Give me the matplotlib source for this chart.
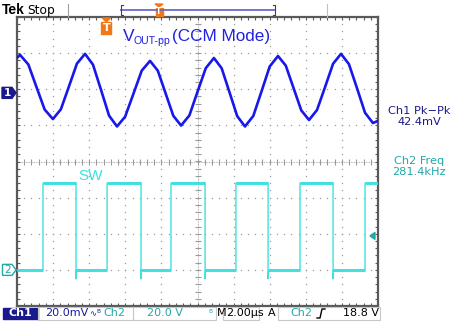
import matplotlib
matplotlib.use('Agg')
import matplotlib.pyplot as plt
from matplotlib.patches import Rectangle, Polygon
import numpy as np

W, H = 459, 326

# ---------------- data ----------------
time_scale_us = 2.0          # 2.00 us / div
ch1_scale_mv = 20.0          # 20.0 mV / div
ch2_scale_v = 20.0           # 20.0 V / div
ch1_offset_div = 1.9         # Ch1 ground marker position (div)
ch2_offset_div = -3.0        # Ch2 ground marker position (div)
trigger_level_v = 18.8
trigger_time_us = 4.95

ch1_t_us = [0.00, 0.17, 0.63, 1.08, 1.53, 1.99, 2.43, 2.88, 3.32, 3.77,
            4.21, 4.66, 5.10, 5.54, 5.99, 6.45, 6.91, 7.37, 7.80, 8.23,
            8.66, 9.09, 9.55, 10.00, 10.46, 10.91, 11.34, 11.77, 12.20, 12.63,
            13.09, 13.55, 14.00, 14.46, 14.89, 15.32, 15.75, 16.18, 16.62, 17.07,
            17.51, 17.95, 18.39, 18.84, 19.28, 19.72, 20.00]
ch1_mv = [19.4, 21.0, 15.7, 3.2, -9.2, -14.5, -9.1, 3.6, 16.2, 21.6,
          15.6, 1.5, -12.6, -18.6, -13.2, -0.5, 12.3, 17.7, 12.3, -0.2,
          -12.7, -18.1, -12.5, 0.6, 13.7, 19.3, 13.6, 0.4, -12.9, -18.6,
          -12.8, 0.9, 14.6, 20.4, 15.1, 2.7, -9.7, -15.0, -9.5, 3.3,
          16.1, 21.6, 15.9, 2.5, -11.0, -16.7, -15.5]

ch2_rise_us = [1.44, 4.99, 8.53, 12.13, 15.68, 19.28]
ch2_fall_us = [3.27, 6.87, 10.42, 13.91, 17.51]
ch2_high_v = 48.0
ch2_low_v = 0.0
ch2_undershoot_v = -5.0

meas_labels = ["Ch1 Pk\u2212Pk", "42.4mV", "Ch2 Freq", "281.4kHz"]

# ---------------- colours ----------------
BLUE = '#1818ea'
CYAN = '#3ee0e0'
NAVY = '#1a1a8c'
TEAL = '#22a8a8'
ORANGE = '#f07818'
GRID = '#9a9a9a'
FRAME = '#5a5a5a'

fig = plt.figure(figsize=(W / 100, H / 100), dpi=100)
fig.patch.set_facecolor('white')

L, R, T, B = 17, 378, 17, 306
ax = fig.add_axes([L / W, 1 - B / H, (R - L) / W, (B - T) / H])
ax.set_xlim(0, 10)
ax.set_ylim(-4, 4)
ax.set_facecolor('white')
for s in ax.spines.values():
    s.set_color(FRAME)
    s.set_linewidth(1.6)
ax.xaxis.set_major_locator(plt.MultipleLocator(1))
ax.yaxis.set_major_locator(plt.MultipleLocator(1))
ax.xaxis.set_minor_locator(plt.MultipleLocator(0.2))
ax.yaxis.set_minor_locator(plt.MultipleLocator(0.2))
ax.tick_params(which='both', direction='in', top=True, right=True,
               length=2.4, width=0.8, color=FRAME,
               labelbottom=False, labelleft=False)

# grid dots
minor = np.arange(0, 10.001, 0.2)
minor_y = np.arange(-4, 4.001, 0.2)
for gx in range(1, 10):
    if gx == 5:
        continue
    ax.plot([gx] * len(minor_y), minor_y, ls='none', marker='s', ms=0.9,
            mew=0, color=GRID, zorder=1)
for gy in range(-3, 4):
    if gy == 0:
        continue
    ax.plot(minor, [gy] * len(minor), ls='none', marker='s', ms=0.9,
            mew=0, color=GRID, zorder=1)
# centre cross
ax.plot([0, 10], [0, 0], color=GRID, lw=0.6, ls=(0, (1, 1)), zorder=1)
ax.plot([5, 5], [-4, 4], color=GRID, lw=0.6, ls=(0, (1, 1)), zorder=1)
ax.plot(minor, [0] * len(minor), ls='none', marker='|', ms=4, mew=0.8,
        color=GRID, zorder=1)
ax.plot([5] * len(minor_y), minor_y, ls='none', marker='_', ms=4, mew=0.8,
        color=GRID, zorder=1)

# ---------------- Ch1 trace ----------------
t1 = np.array(ch1_t_us) / time_scale_us
y1 = ch1_offset_div + np.array(ch1_mv) / ch1_scale_mv
ax.plot(t1, y1, color=BLUE, lw=1.9, solid_joinstyle='round', zorder=4)

# ---------------- Ch2 trace ----------------
edges = sorted([(t, 'r') for t in ch2_rise_us] + [(t, 'f') for t in ch2_fall_us])
xs, ys = [0.0], [ch2_low_v]
cur = ch2_low_v
flats = []
start = 0.0
for t, kind in edges:
    flats.append((start, t, cur))
    if kind == 'r':
        xs += [t, t]
        ys += [cur, ch2_high_v]
        cur = ch2_high_v
    else:
        xs += [t, t, t + 0.03]
        ys += [cur, ch2_undershoot_v, ch2_low_v]
        cur = ch2_low_v
    start = t
xs.append(20.0)
ys.append(cur)
flats.append((start, 20.0, cur))
x2 = np.array(xs) / time_scale_us
y2 = ch2_offset_div + np.array(ys) / ch2_scale_v
ax.plot(x2, y2, color=CYAN, lw=1.0, zorder=3)
for a, b, v in flats:
    ax.plot([a / time_scale_us, b / time_scale_us],
            [ch2_offset_div + v / ch2_scale_v] * 2, color=CYAN, lw=2.1,
            solid_capstyle='butt', zorder=3)


def fx(px):
    return px / W


def fy(py):
    return 1 - py / H


# ---------------- annotations inside graticule ----------------
VCOL = '#2222e0'
fig.text(fx(123), fy(41), 'V', fontsize=12.5, color=VCOL,
         family='Liberation Sans', va='baseline')
fig.text(fx(133), fy(44), 'OUT-pp', fontsize=7.6, color=VCOL,
         family='Liberation Sans', va='baseline')
fig.text(fx(172), fy(41), '(CCM Mode)', fontsize=12.3, color=VCOL,
         family='Liberation Sans', va='baseline')
fig.text(fx(78), fy(180), 'SW', fontsize=11, color=CYAN,
         family='Liberation Sans', va='baseline')

# trigger position marker (orange T)
tx = L + (trigger_time_us / time_scale_us) * (R - L) / 10
fig.patches.append(Polygon([[fx(tx - 4), fy(18)], [fx(tx + 4), fy(18)],
                            [fx(tx), fy(22)]], closed=True,
                           transform=fig.transFigure, color=ORANGE))
fig.patches.append(Rectangle((fx(tx - 5), fy(34)), 10 / W, 12 / H,
                             transform=fig.transFigure, color=ORANGE))
fig.text(fx(tx), fy(28), 'T', fontsize=8, color='white', weight='bold',
         ha='center', va='center', family='DejaVu Sans')

# trigger level arrow at right
ty = (T + B) / 2 - (ch2_offset_div + trigger_level_v / ch2_scale_v) * (B - T) / 8
fig.patches.append(Polygon([[fx(370), fy(ty)], [fx(375), fy(ty - 3.5)],
                            [fx(375), fy(ty + 3.5)]], closed=True,
                           transform=fig.transFigure, color=TEAL))

# channel markers
c1y = (T + B) / 2 - ch1_offset_div * (B - T) / 8
fig.patches.append(Polygon([[fx(2), fy(c1y - 5.5)], [fx(12), fy(c1y - 5.5)],
                            [fx(16), fy(c1y)], [fx(12), fy(c1y + 5.5)],
                            [fx(2), fy(c1y + 5.5)]], closed=True,
                           transform=fig.transFigure, color=NAVY))
fig.text(fx(7.5), fy(c1y), '1', fontsize=7.5, color='white', weight='bold',
         ha='center', va='center', family='DejaVu Sans')
c2y = (T + B) / 2 - ch2_offset_div * (B - T) / 8
fig.patches.append(Polygon([[fx(2.5), fy(c2y - 5.5)], [fx(12), fy(c2y - 5.5)],
                            [fx(16), fy(c2y)], [fx(12), fy(c2y + 5.5)],
                            [fx(2.5), fy(c2y + 5.5)]], closed=True,
                           transform=fig.transFigure, facecolor='white',
                           edgecolor=TEAL, lw=1.0))
fig.text(fx(8), fy(c2y), '2', fontsize=7.5, color=TEAL,
         ha='center', va='center', family='DejaVu Sans')

# ---------------- top bar ----------------
fig.text(fx(2), fy(14), 'Tek', fontsize=10, weight='bold', color='black',
         family='Liberation Sans', va='baseline')
fig.text(fx(27), fy(14), 'Stop', fontsize=8.8, color='black',
         family='DejaVu Sans', va='baseline')
fig.lines.append(plt.Line2D([fx(68), fx(68)], [fy(4), fy(17)],
                            transform=fig.transFigure, color='#a0a0a0', lw=0.8))
fig.lines.append(plt.Line2D([fx(327), fx(327)], [fy(4), fy(17)],
                            transform=fig.transFigure, color='#c0c0c0', lw=0.8))
fig.lines.append(plt.Line2D([fx(121), fx(275)], [fy(10), fy(10)],
                            transform=fig.transFigure, color='#6a6ac8', lw=1.3))
for bx, d in ((121, 2), (275, -2)):
    fig.lines.append(plt.Line2D([fx(bx + d), fx(bx), fx(bx), fx(bx + d)],
                                [fy(5), fy(5), fy(15), fy(15)],
                                transform=fig.transFigure, color='#404040', lw=0.8))
fig.patches.append(Polygon([[fx(155), fy(4)], [fx(163), fy(4)], [fx(159), fy(7)]],
                           closed=True, transform=fig.transFigure, color=ORANGE))
fig.patches.append(Rectangle((fx(155.5), fy(16)), 7 / W, 8.5 / H,
                             transform=fig.transFigure, color=ORANGE))
fig.text(fx(159), fy(12), 'T', fontsize=5.5, color='white', weight='bold',
         ha='center', va='center', family='DejaVu Sans')

# ---------------- measurements ----------------
fig.text(fx(419), fy(111), meas_labels[0], fontsize=8.2, color=NAVY,
         ha='center', va='center', family='DejaVu Sans')
fig.text(fx(419), fy(122), meas_labels[1], fontsize=8.2, color=NAVY,
         ha='center', va='center', family='DejaVu Sans')
fig.text(fx(419), fy(161), meas_labels[2], fontsize=8.2, color=TEAL,
         ha='center', va='center', family='DejaVu Sans')
fig.text(fx(419), fy(172), meas_labels[3], fontsize=8.2, color=TEAL,
         ha='center', va='center', family='DejaVu Sans')

# ---------------- status bar ----------------
fig.patches.append(Rectangle((fx(3), fy(319)), 35 / W, 11 / H,
                             transform=fig.transFigure, color=NAVY))
fig.text(fx(20.5), fy(313.5), 'Ch1', fontsize=8, color='white', weight='bold',
         ha='center', va='center', family='DejaVu Sans')
for x0, x1 in ((38, 133), (133, 216), (223, 259), (278, 380)):
    fig.patches.append(Rectangle((fx(x0), fy(320)), (x1 - x0) / W, 13 / H,
                                 transform=fig.transFigure, facecolor='none',
                                 edgecolor='#c8c8c8', lw=0.8))
fig.text(fx(45), fy(313.5), '20.0mV', fontsize=8, color='#1a1aa0',
         va='center', family='DejaVu Sans')
fig.text(fx(89), fy(313.5), '\u223f', fontsize=6, color='#1a1aa0',
         va='center', family='DejaVu Sans')
fig.text(fx(96), fy(311.5), 'B', fontsize=4.2, color='#1a1aa0',
         va='center', family='DejaVu Sans')
fig.text(fx(103), fy(313.5), 'Ch2', fontsize=8, color=TEAL,
         va='center', family='DejaVu Sans')
fig.text(fx(147), fy(313.5), '20.0 V', fontsize=8, color=TEAL,
         va='center', family='DejaVu Sans')
fig.text(fx(208), fy(311.5), 'B', fontsize=4.2, color=TEAL,
         va='center', family='DejaVu Sans')
fig.text(fx(217), fy(313.5), 'M', fontsize=8, color='black',
         va='center', family='DejaVu Sans')
fig.text(fx(226), fy(313.5), '2.00\u00b5s', fontsize=8, color='black',
         va='center', family='DejaVu Sans')
fig.text(fx(268), fy(313.5), 'A', fontsize=8, color='black',
         va='center', family='DejaVu Sans')
fig.text(fx(290), fy(313.5), 'Ch2', fontsize=8, color=TEAL,
         va='center', family='DejaVu Sans')
fig.lines.append(plt.Line2D([fx(317), fx(320), fx(322), fx(325)],
                            [fy(318), fy(318), fy(309), fy(309)],
                            transform=fig.transFigure, color='black', lw=1.0))
fig.text(fx(343), fy(313.5), '18.8 V', fontsize=8, color='black',
         va='center', family='DejaVu Sans')

fig.savefig('out.png', dpi=100, facecolor='white')
